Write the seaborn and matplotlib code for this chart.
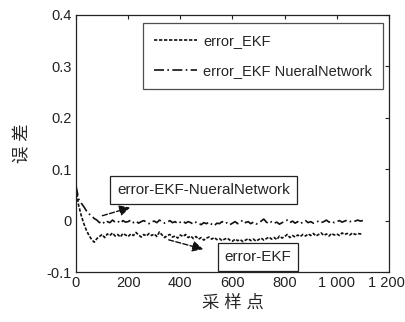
import numpy as np
import pandas as pd
import matplotlib
matplotlib.use('Agg')
import matplotlib.pyplot as plt
import matplotlib.transforms as mtransforms
import seaborn as sns

# sample index (every 10 samples)
samples = list(range(0, 1101, 10))

err_nn = [0.068, 0.042, 0.034, 0.027, 0.019, 0.013, 0.009, 0.004, 0.001, -0.004,
          -0.001, -0.006, -0.002, -0.004, 0.001, -0.003, -0.001, -0.005, 0.000, -0.003,
          -0.002, 0.001, -0.004, -0.001, -0.005, -0.002, 0.000, -0.003, -0.006, -0.002,
          -0.001, -0.004, 0.001, -0.002, -0.005, -0.003, 0.000, -0.004, -0.002, -0.006,
          -0.003, -0.001, -0.005, -0.002, -0.004, -0.007, -0.003, -0.005, -0.008, -0.004,
          -0.006, -0.003, -0.007, -0.010, -0.005, -0.006, -0.002, -0.006, -0.004, -0.008,
          -0.005, -0.002, -0.006, -0.003, 0.001, -0.004, -0.002, -0.006, -0.003, -0.007,
          -0.004, -0.001, 0.003, -0.003, -0.006, -0.002, -0.005, -0.003, -0.007, -0.004,
          -0.002, 0.001, -0.004, -0.001, -0.005, -0.002, -0.006, -0.003, 0.000, -0.004,
          -0.002, -0.005, -0.003, -0.001, -0.004, -0.002, 0.001, -0.003, -0.001, -0.004,
          -0.002, 0.000, -0.003, -0.001, 0.001, -0.002, 0.000, -0.001, 0.001, -0.001,
          0.000]

err_ekf = [0.062, 0.030, 0.010, -0.006, -0.019, -0.029, -0.037, -0.042, -0.035, -0.031,
           -0.027, -0.033, -0.026, -0.029, -0.024, -0.030, -0.027, -0.032, -0.025, -0.028,
           -0.031, -0.026, -0.029, -0.023, -0.028, -0.032, -0.027, -0.030, -0.025, -0.029,
           -0.026, -0.031, -0.022, -0.028, -0.033, -0.029, -0.027, -0.032, -0.030, -0.034,
           -0.028, -0.031, -0.027, -0.033, -0.030, -0.035, -0.031, -0.036, -0.033, -0.038,
           -0.034, -0.032, -0.036, -0.033, -0.037, -0.035, -0.039, -0.036, -0.034, -0.038,
           -0.040, -0.036, -0.039, -0.037, -0.041, -0.038, -0.035, -0.039, -0.036, -0.040,
           -0.037, -0.034, -0.038, -0.035, -0.032, -0.036, -0.033, -0.037, -0.030, -0.034,
           -0.031, -0.027, -0.033, -0.029, -0.032, -0.028, -0.031, -0.027, -0.030, -0.026,
           -0.029, -0.025, -0.030, -0.027, -0.024, -0.029, -0.026, -0.030, -0.025, -0.028,
           -0.026, -0.029, -0.024, -0.027, -0.025, -0.028, -0.024, -0.027, -0.025, -0.026,
           -0.025]

series_names = ['error_EKF', 'error_EKF NueralNetwork']
x_ticks = [0, 200, 400, 600, 800, 1000, 1200]
x_tick_labels = ['0', '200', '400', '600', '800', '1 000', '1 200']
y_ticks = [-0.1, 0, 0.1, 0.2, 0.3, 0.4]
y_tick_labels = ['-0.1', '0', '0.1', '0.2', '0.3', '0.4']

sns.set_style('white')
plt.rcParams['font.family'] = ['Liberation Sans', 'Noto Sans CJK SC', 'DejaVu Sans']
plt.rcParams['xtick.direction'] = 'in'
plt.rcParams['ytick.direction'] = 'in'

df = pd.DataFrame({'x': samples * 2,
                   'err': err_ekf + err_nn,
                   'series': [series_names[0]] * len(samples) + [series_names[1]] * len(samples)})

fig = plt.figure(figsize=(4.06, 3.22), dpi=100)
# axes box: left 76px, right 389px, top 15px, bottom 272px
ax = fig.add_axes([76 / 406, 50 / 322, 313 / 406, 257 / 322])

sns.lineplot(data=df, x='x', y='err', hue='series', style='series',
             palette=['#111111', '#111111'],
             dashes={series_names[0]: (2, 1), series_names[1]: (6, 2, 1, 2)},
             linewidth=1.2, ax=ax)

ax.set_xlim(0, 1200)
ax.set_ylim(-0.1, 0.4)
ax.set_xticks(x_ticks)
ax.set_xticklabels(x_tick_labels)
ax.set_yticks(y_ticks)
ax.set_yticklabels(y_tick_labels)
ax.tick_params(axis='both', labelsize=10.5, colors='#222222', length=3, width=0.8,
               top=True, right=True, pad=3)
# last x label sits a bit left so it stays inside the picture
off = mtransforms.ScaledTranslation(-3 / 100, 0, fig.dpi_scale_trans)
lab = ax.get_xticklabels()[-1]
lab.set_transform(lab.get_transform() + off)
for s in ax.spines.values():
    s.set_visible(True)
    s.set_color('#222222')
    s.set_linewidth(0.9)

ax.set_xlabel('采 样 点', fontsize=12.5, labelpad=3)
ax.set_ylabel('误 差', fontsize=12.5, labelpad=12)

leg = ax.legend(loc='upper right', bbox_to_anchor=(0.981, 0.969), borderaxespad=0,
                fontsize=10.5, frameon=True, fancybox=False, edgecolor='#222222',
                handlelength=3.0, borderpad=0.75, labelspacing=1.1, handletextpad=0.4,
                title=None)
leg.get_frame().set_linewidth(0.9)

box = dict(boxstyle='square,pad=0.45', fc='white', ec='#222222', lw=0.9)
arrow = dict(arrowstyle='-|>', linestyle='--', color='#111111', lw=1.0, mutation_scale=16)
ax.annotate('', xy=(218, 0.027), xytext=(91, 0.008), arrowprops=arrow)
ax.text(488, 0.060, 'error-EKF-NueralNetwork', fontsize=11, ha='center', va='center', bbox=box)
ax.annotate('', xy=(498, -0.057), xytext=(345, -0.036), arrowprops=arrow)
ax.text(697, -0.071, 'error-EKF', fontsize=11, ha='center', va='center', bbox=box)

fig.savefig('out.png', dpi=100)
